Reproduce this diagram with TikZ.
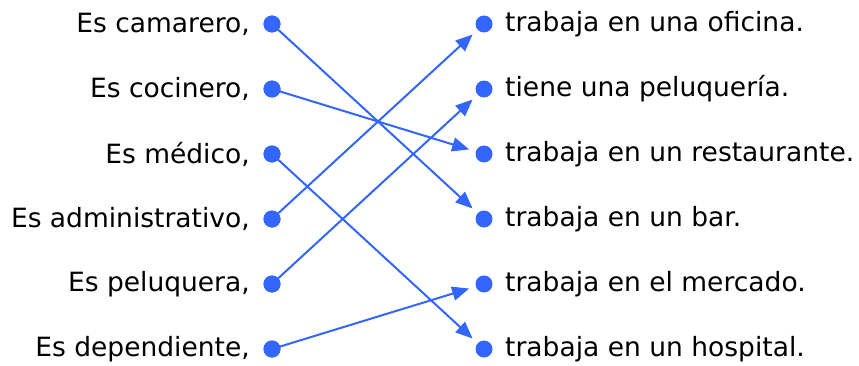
\documentclass[tikz,border=0pt]{standalone}
\usepackage{fontspec}
\setmainfont{DejaVu Sans}
\usetikzlibrary{arrows.meta}
\definecolor{lineblue}{RGB}{51,102,255}
\begin{document}
\begin{tikzpicture}[x=1pt,y=1pt,
  dot/.style={circle,fill=lineblue,minimum size=17pt,inner sep=0pt,outer sep=0pt},
  ltext/.style={anchor=east,inner sep=0pt,font=\fontsize{26.5}{30}\selectfont},
  rtext/.style={anchor=west,inner sep=0pt,font=\fontsize{26.5}{30}\selectfont},
  link/.style={draw=lineblue,line width=2pt,shorten >=7pt,-{Triangle[length=17pt,width=14pt]}}]
\fill[white] (0,0) rectangle (859,365);
\useasboundingbox (0,0) rectangle (859,365);
% left column
\foreach \i/\yy/\t in {1/341/{Es camarero,},2/276/{Es cocinero,},3/211/{Es médico,},4/146/{Es administrativo,},5/81/{Es peluquera,},6/16/{Es dependiente,}}{
  \node[ltext] (lt\i) at (250,\yy) {\t};
  \node[dot] (l\i) at (272,\yy) {};
}
\foreach \i/\yy/\t in {1/341/{trabaja en una oficina.},2/276/{tiene una peluquería.},3/211/{trabaja en un restaurante.},4/146/{trabaja en un bar.},5/81/{trabaja en el mercado.},6/16/{trabaja en un hospital.}}{
  \node[dot] (r\i) at (484,\yy) {};
  \node[rtext] (rt\i) at (505,\yy) {\t};
}
\draw[link] (l1.center) -- (r4);
\draw[link] (l2.center) -- (r3);
\draw[link] (l3.center) -- (r6);
\draw[link] (l4.center) -- (r1);
\draw[link] (l5.center) -- (r2);
\draw[link] (l6.center) -- (r5);
\foreach \i in {1,...,6}{\node[dot] at (l\i) {};}
\end{tikzpicture}
\end{document}
